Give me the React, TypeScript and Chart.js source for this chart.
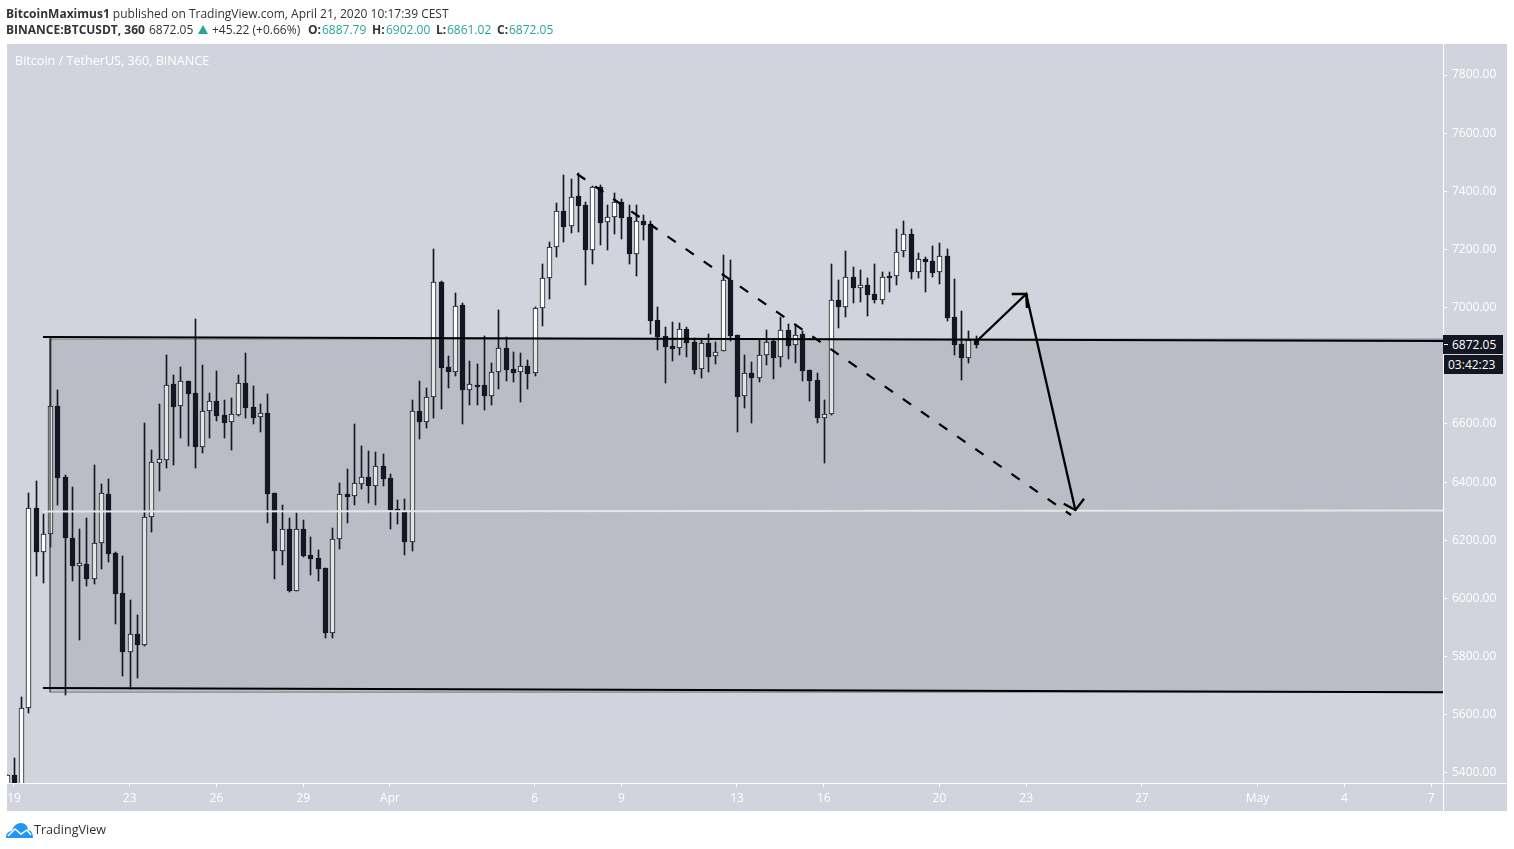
import { useEffect, useRef } from 'react';
import Chart from 'chart.js/auto';

// 6h candles of BTCUSDT, first entry is the one clipped at the left edge (index -1)
const firstIndex = -1;
const opens = [
  5330, 5393, 5340, 5622, 6310, 6161, 6221, 6661, 6417, 6207, 6113, 6117, 6068, 6190, 6359, 6155, 6018, 5817, 5877, 5841,
  6279, 6467, 6475, 6738, 6661, 6748, 6705, 6522, 6644, 6678, 6630, 6606, 6632, 6740, 6657, 6623, 6637, 6362, 6164, 6238,
  6025, 6238, 6148, 6139, 6105, 5880, 6203, 6359, 6351, 6395, 6417, 6388, 6454, 6413, 6308, 6302, 6195, 6644, 6608, 6692,
  7087, 6796, 6780, 7008, 6718, 6733, 6733, 6697, 6778, 6860, 6788, 6778, 6798, 6774, 6998, 7101, 7207, 7331, 7280, 7383,
  7352, 7200, 7414, 7293, 7311, 7362, 7311, 7186, 7298, 7286, 6956, 6901, 6867, 6860, 6925, 6882, 6788, 6877, 6833, 6850,
  7094, 6905, 6695, 6774, 6757, 6838, 6884, 6829, 6922, 6870, 6908, 6784, 6750, 6622, 6633, 7026, 7003, 7104, 7069, 7077,
  7046, 7027, 7109, 7108, 7194, 7252, 7124, 7166, 7159, 7124, 7176, 6967, 6874, 6828, 6887.79,
];
const closes = [
  5393, 5340, 5622, 6310, 6161, 6221, 6661, 6415, 6209, 6113, 6121, 6068, 6190, 6362, 6154, 6017, 5817, 5877, 5841, 6279,
  6468, 6478, 6733, 6660, 6747, 6704, 6522, 6644, 6678, 6629, 6605, 6633, 6740, 6656, 6622, 6637, 6360, 6164, 6238, 6027,
  6238, 6147, 6137, 6103, 5882, 6203, 6358, 6350, 6396, 6417, 6388, 6454, 6412, 6305, 6302, 6195, 6644, 6608, 6692, 7087,
  6794, 6780, 7005, 6718, 6736, 6728, 6697, 6778, 6860, 6787, 6777, 6798, 6773, 6998, 7101, 7207, 7331, 7278, 7382, 7351,
  7199, 7414, 7292, 7311, 7362, 7309, 7186, 7297, 7285, 6955, 6900, 6866, 6859, 6925, 6880, 6787, 6877, 6831, 6849, 7094,
  6904, 6694, 6774, 6757, 6838, 6883, 6828, 6922, 6869, 6907, 6783, 6749, 6622, 6633, 7025, 7003, 7104, 7069, 7077, 7045,
  7027, 7104, 7103, 7190, 7252, 7124, 7166, 7158, 7120, 7176, 6966, 6873, 6828, 6890, 6872.05,
];
const highs = [
  5393, 5450, 5660, 6363, 6403, 6291, 6896, 6717, 6425, 6383, 6238, 6276, 6459, 6394, 6410, 6160, 6146, 5995, 5943, 6603,
  6511, 6669, 6837, 6768, 6796, 6748, 6961, 6803, 6705, 6782, 6683, 6688, 6768, 6844, 6731, 6669, 6703, 6362, 6321, 6277,
  6293, 6270, 6210, 6167, 6105, 6241, 6397, 6445, 6600, 6524, 6507, 6504, 6497, 6428, 6339, 6342, 6683, 6748, 6723, 7202,
  7091, 6834, 7050, 7015, 6817, 6806, 6903, 6810, 6992, 6899, 6848, 6844, 6820, 7001, 7150, 7225, 7360, 7456, 7442, 7462,
  7362, 7417, 7422, 7352, 7393, 7372, 7352, 7352, 7317, 7297, 7001, 6932, 6950, 6946, 6932, 6894, 6888, 6908, 6883, 7180,
  7163, 6906, 6836, 6812, 6892, 6922, 6889, 6969, 6943, 6940, 6921, 6786, 6774, 6681, 7149, 7095, 7194, 7140, 7129, 7101,
  7149, 7123, 7123, 7270, 7298, 7270, 7188, 7174, 7212, 7222, 7202, 7098, 6988, 6920, 6902,
];
const lows = [
  5330, 5320, 5330, 5607, 6079, 6054, 6178, 6323, 5669, 6061, 5858, 6044, 6051, 6103, 6127, 5913, 5735, 5688, 5728, 5838,
  6230, 6371, 6450, 6460, 6553, 6525, 6450, 6501, 6553, 6611, 6553, 6512, 6629, 6622, 6601, 6574, 6261, 6068, 6115, 6023,
  6025, 6144, 6082, 6061, 5865, 5863, 6171, 6260, 6321, 6378, 6330, 6321, 6387, 6240, 6256, 6151, 6164, 6550, 6587, 6622,
  6653, 6725, 6766, 6601, 6666, 6666, 6649, 6666, 6721, 6749, 6746, 6677, 6721, 6766, 6938, 7031, 7175, 7227, 7258, 7261,
  7079, 7151, 7217, 7199, 7254, 7237, 7151, 7110, 7234, 6911, 6856, 6742, 6818, 6838, 6831, 6773, 6759, 6780, 6807, 6850,
  6886, 6574, 6656, 6604, 6745, 6804, 6756, 6797, 6825, 6811, 6749, 6680, 6605, 6467, 6630, 6931, 6969, 7017, 7021, 6972,
  7017, 7014, 7055, 7079, 7175, 7100, 7103, 7055, 7107, 7082, 6955, 6838, 6752, 6811, 6861.02,
];

const yTicks = [5400, 5600, 5800, 6000, 6200, 6400, 6600, 6800, 7000, 7200, 7400, 7600, 7800];
const xTickIndexes = [0, 16, 28, 40, 52, 72, 84, 100, 112, 128, 140, 156, 172, 184, 196];
const xTickLabels = ['19', '23', '26', '29', 'Apr', '6', '9', '13', '16', '20', '23', '27', 'May', '4', '7'];

// Drawings, candle index and price
const xMin = -0.968;
const xMax = 197.65;
const topLineX = [4, xMax];
const topLineY = [6899, 6885];
const bottomLineX = [4, xMax];
const bottomLineY = [5692, 5678];
const midLineX = [4, xMax];
const midLineY = [6299, 6303];
const boxLeft = 4.98;
const boxTop = 6892;
const boxBottom = 5678;
const dashX = [77.87, 146.2];
const dashY = [7460, 6287];
const arrowX = [132.9, 140, 146.8];
const arrowY = [6878.5, 7047, 6304];
const headOneX = [138, 140, 140.1];
const headOneY = [7047, 7047, 6999];
const headTwoX = [145.2, 146.8, 148];
const headTwoY = [6326, 6304, 6343];

const DARK = '#131722';
const PANEL = '#D1D4DD';
const TEAL = '#26A69A';
const FONT = '"Open Sans", sans-serif';

// second header line: text, left edge, colour, bold
const quoteParts: [string, number, string, boolean][] = [
  ['BINANCE:BTCUSDT, 360', 6, '#333333', true],
  ['6872.05', 149, '#333333', false],
  ['+45.22 (+0.66%)', 212, '#333333', false],
  ['O:', 308, '#333333', true],
  ['6887.79', 322, TEAL, false],
  ['H:', 372, '#333333', true],
  ['6902.00', 386, TEAL, false],
  ['L:', 436, '#333333', true],
  ['6861.02', 447, TEAL, false],
  ['C:', 497, '#333333', true],
  ['6872.05', 509, TEAL, false],
];

const pts = (xs: number[], ys: number[]) => xs.map((x, i) => ({ x, y: ys[i] }));

function lineSet(xs: number[], ys: number[], color: string, order: number, width = 2, extra: any = {}) {
  return {
    type: 'line' as const,
    data: pts(xs, ys),
    borderColor: color,
    borderWidth: width,
    pointRadius: 0,
    fill: false,
    tension: 0,
    order,
    ...extra,
  };
}

// the original has its candles on whole pixels, so do the same
const snapBars = {
  id: 'snapBars',
  afterDatasetsUpdate(chart: any) {
    chart.data.datasets.forEach((ds: any, i: number) => {
      if (ds.type === 'line') return;
      chart.getDatasetMeta(i).data.forEach((el: any) => {
        el.x = Math.round(el.x) + 0.5;
        el.y = Math.round(el.y);
        el.base = Math.round(el.base);
      });
    });
  },
};

const textBase: any = { position: 'absolute', fontFamily: FONT, whiteSpace: 'nowrap' };

export default function App() {
  const canvasRef = useRef<HTMLCanvasElement>(null);

  useEffect(() => {
    if (!canvasRef.current) return;
    const xs = opens.map((_, i) => i + firstIndex);

    const chart = new Chart(canvasRef.current, {
      type: 'bar',
      plugins: [snapBars],
      data: {
        datasets: [
          {
            label: 'wicks',
            data: xs.map((x, i) => ({ x, y: [lows[i], highs[i]] })),
            backgroundColor: DARK,
            barThickness: 1,
            grouped: false,
            order: 6,
          },
          {
            label: 'bodies',
            data: xs.map((x, i) => ({ x, y: [opens[i], closes[i]] })),
            backgroundColor: xs.map((_, i) => (closes[i] >= opens[i] ? '#FFFFFF' : DARK)),
            borderColor: DARK,
            borderWidth: 1,
            borderSkipped: false,
            barThickness: 5,
            minBarLength: 2,
            grouped: false,
            order: 5,
          },
          lineSet([boxLeft, xMax], [boxTop, boxTop], 'rgba(0,0,0,0)', 4, 0, {
            fill: { value: boxBottom },
            backgroundColor: 'rgba(30,30,40,0.125)',
          }),
          lineSet([xMax, boxLeft, boxLeft, xMax], [boxTop, boxTop, boxBottom, boxBottom], 'rgba(60,60,60,0.55)', 3, 1),
          lineSet(midLineX, midLineY, '#E6E6E6', 2),
          lineSet(topLineX, topLineY, '#000000', 1),
          lineSet(bottomLineX, bottomLineY, '#000000', 1),
          lineSet(dashX, dashY, '#000000', 1, 2.3, { borderDash: [10, 12] }),
          lineSet(arrowX, arrowY, '#000000', 1, 2.3),
          lineSet(headOneX, headOneY, '#000000', 1, 2.3),
          lineSet(headTwoX, headTwoY, '#000000', 1, 2.3),
        ] as any,
      },
      options: {
        responsive: false,
        animation: false,
        layout: { padding: { left: 7, top: 44, right: 7, bottom: 38 } },
        plugins: { legend: { display: false }, tooltip: { enabled: false } },
        events: [],
        scales: {
          x: {
            type: 'linear',
            min: xMin,
            max: xMax,
            offset: false,
            border: { display: false },
            grid: { offset: false, drawOnChartArea: false, color: '#FFFFFF', tickLength: 4 },
            afterBuildTicks: (scale: any) => {
              scale.ticks = xTickIndexes.map((value) => ({ value }));
            },
            afterFit: (scale: any) => {
              scale.height = 28;
              scale.paddingLeft = 0;
              scale.paddingRight = 0;
            },
            ticks: {
              autoSkip: false,
              maxRotation: 0,
              color: '#FFFFFF',
              padding: 4,
              font: { family: FONT, size: 12 },
              callback: (value: any) => xTickLabels[xTickIndexes.indexOf(value)] ?? '',
            },
          },
          y: {
            position: 'right',
            min: 5365.6,
            max: 7906.6,
            border: { display: false },
            grid: { drawOnChartArea: false, color: '#FFFFFF', tickLength: 4 },
            afterBuildTicks: (scale: any) => {
              scale.ticks = yTicks.map((value) => ({ value }));
            },
            afterFit: (scale: any) => {
              scale.width = 64;
              scale.paddingTop = 0;
              scale.paddingBottom = 0;
            },
            ticks: {
              color: '#FFFFFF',
              padding: 5,
              font: { family: FONT, size: 12 },
              callback: (value: any) => Number(value).toFixed(2),
            },
          },
        },
      },
    });

    return () => chart.destroy();
  }, []);

  return (
    <div style={{ position: 'fixed', left: 0, top: 0, width: 1514, height: 849, background: '#FFFFFF', overflow: 'hidden' }}>
      <div style={{ position: 'absolute', left: 7, top: 44, width: 1500, height: 767, background: PANEL }} />
      <div style={{ position: 'absolute', left: 1443, top: 44, width: 1, height: 767, background: '#FFFFFF' }} />
      <div style={{ position: 'absolute', left: 7, top: 783, width: 1500, height: 1, background: '#FFFFFF' }} />
      <canvas ref={canvasRef} width={1514} height={849} style={{ position: 'absolute', left: 0, top: 0 }} />

      <div style={{ ...textBase, left: 6, top: 6, fontSize: 12, lineHeight: '16px', color: '#333333' }}>
        <b>BitcoinMaximus1</b> published on TradingView.com, April 21, 2020 10:17:39 CEST
      </div>
      {quoteParts.map(([text, left, color, bold], i) => (
        <div key={i} style={{ ...textBase, left, top: 22, fontSize: 12, lineHeight: '16px', color, fontWeight: bold ? 700 : 400 }}>
          {text}
        </div>
      ))}
      <div style={{ position: 'absolute', left: 198, top: 25, width: 0, height: 0, borderLeft: '5.5px solid transparent', borderRight: '5.5px solid transparent', borderBottom: '9px solid ' + TEAL }} />
      <div style={{ ...textBase, left: 15, top: 53, fontSize: 12.6, lineHeight: '16px', color: '#FFFFFF' }}>
        Bitcoin / TetherUS, 360, BINANCE
      </div>

      <div style={{ ...textBase, left: 1443, top: 335, width: 60, height: 19, background: DARK, color: '#FFFFFF', fontSize: 12, lineHeight: '19px', paddingLeft: 9, boxSizing: 'border-box' }}>
        6872.05
      </div>
      <div style={{ position: 'absolute', left: 1444, top: 344, width: 4, height: 1, background: '#FFFFFF' }} />
      <div style={{ ...textBase, left: 1444, top: 355, width: 59, height: 19, background: DARK, color: '#FFFFFF', fontSize: 12, lineHeight: '19px', paddingLeft: 4, boxSizing: 'border-box' }}>
        03:42:23
      </div>

      <svg style={{ position: 'absolute', left: 6, top: 822 }} width="27" height="16" viewBox="0 0 27 16">
        <path d="M0 16 C0 11 3 9 6 9 C7 4 11 1 15 1 C19 1 22 4 22 8 C25 8 27 11 27 16 Z" fill="#2196F3" />
        <path d="M2 14 L9 7 L15 12 L21 8 L25 13" fill="none" stroke="#FFFFFF" strokeWidth="1.5" />
      </svg>
      <div style={{ ...textBase, left: 34, top: 822, fontSize: 12.6, lineHeight: '16px', color: '#333333' }}>TradingView</div>
    </div>
  );
}
